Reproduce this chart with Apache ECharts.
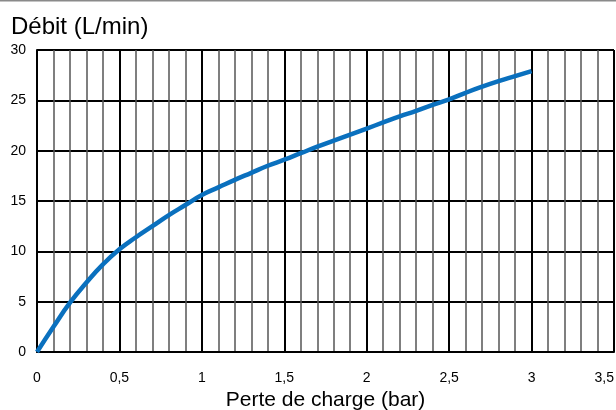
<!DOCTYPE html>
<html>
<head>
<meta charset="utf-8">
<script src="https://cdn.jsdelivr.net/npm/echarts@6/dist/echarts.min.js"></script>
<style>
  html, body { margin: 0; padding: 0; background: #fff; }
  #chart { width: 616px; height: 410px; }
</style>
</head>
<body>
<div id="chart"></div>
<script>
// perte de charge (bar) -> débit (L/min)
var pressure = [0, 0.1, 0.2, 0.3, 0.4, 0.5, 0.6, 0.7, 0.8, 0.9, 1.0,
                1.1, 1.2, 1.3, 1.4, 1.5, 1.6, 1.7, 1.8, 1.9, 2.0,
                2.1, 2.2, 2.3, 2.4, 2.5, 2.6, 2.7, 2.8, 2.9, 3.0];
var flow = [0, 2.5, 4.9, 6.9, 8.7, 10.2, 11.4, 12.5, 13.6, 14.6, 15.6,
            16.35, 17.1, 17.8, 18.5, 19.1, 19.75, 20.4, 21.0, 21.6, 22.2,
            22.8, 23.4, 23.95, 24.55, 25.1, 25.75, 26.35, 26.9, 27.4, 27.9];

var points = pressure.map(function (p, i) { return [p, flow[i]]; });

var chart = echarts.init(document.getElementById('chart'));
var option = {
    animation: false,
    textStyle: { fontFamily: 'Liberation Sans, Arial, sans-serif' },
    title: {
        text: 'Débit (L/min)',
        left: 6,
        top: 10,
        textStyle: { color: '#000', fontSize: 24, fontWeight: 'normal' }
    },
    graphic: [{
        type: 'line',
        shape: { x1: 0, y1: 0.5, x2: 616, y2: 0.5 },
        style: { stroke: '#8a8a8a', lineWidth: 2 }
    }],
    grid: { left: 37, right: 2, top: 50, bottom: 58, outerBoundsMode: 'none' },
    xAxis: {
        type: 'value',
        min: 0,
        max: 3.5,
        interval: 0.5,
        name: 'Perte de charge (bar)',
        nameLocation: 'middle',
        nameGap: 34,
        nameTextStyle: { color: '#000', fontSize: 21 },
        axisLine: { show: true, lineStyle: { color: '#000', width: 2 } },
        axisTick: { show: false },
        axisLabel: {
            color: '#000', fontSize: 14, margin: 19, alignMaxLabel: 'right',
            formatter: function (v) { return String(v).replace('.', ','); }
        },
        splitLine: { show: true, lineStyle: { color: '#000', width: 2 } },
        minorTick: { show: false, splitNumber: 5 },
        minorSplitLine: { show: true, lineStyle: { color: '#555', width: 1.5 } }
    },
    yAxis: {
        type: 'value',
        min: 0,
        max: 30,
        interval: 5,
        axisLine: { show: true, lineStyle: { color: '#000', width: 2 } },
        axisTick: { show: false },
        axisLabel: { color: '#000', fontSize: 14, margin: 11 },
        splitLine: { show: true, lineStyle: { color: '#000', width: 2 } }
    },
    series: [{
        type: 'line',
        data: points,
        smooth: true,
        showSymbol: false,
        lineStyle: { color: '#0a70be', width: 4.5 }
    }]
};
chart.setOption(option);
</script>
</body>
</html>
